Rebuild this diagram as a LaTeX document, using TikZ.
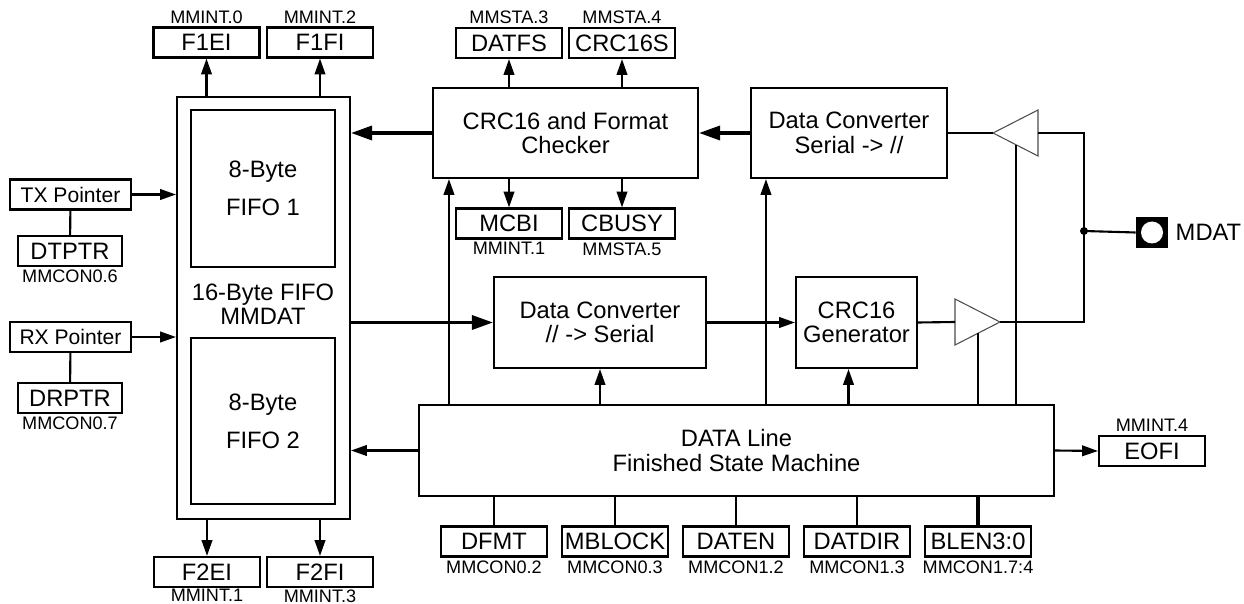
\documentclass[tikz,border=0pt]{standalone}
\usepackage{fontspec}
\setmainfont{Liberation Sans}
\usetikzlibrary{positioning,calc,arrows.meta}

\begin{document}
\begin{tikzpicture}[x=0.02cm, y=-0.02cm,
	every node/.style={inner sep=0pt, font=\fontsize{13.5}{14}\selectfont},
	box/.style={draw, line width=1.2pt, align=center},
	reg/.style={box, minimum width=2.12cm, minimum height=0.6cm},
	ptr/.style={box, minimum width=2.42cm, minimum height=0.6cm, font=\fontsize{12}{14}\selectfont},
	lbl/.style={font=\fontsize{10.3}{12}\selectfont, inner sep=1.5pt},
	arr/.style={-{Triangle[length=9pt,width=6pt]}, line width=1.2pt},
	bigarr/.style={-{Triangle[length=12pt,width=8pt]}, line width=1.9pt},
	buf/.style={draw=black!70, line width=0.6pt}]
	\useasboundingbox (0,0) rectangle (1244,604);

	% FIFO block
	\node[box, minimum width=3.46cm, minimum height=8.44cm] (fifo) at (263.5,308) {};
	\node[box, minimum width=2.88cm, minimum height=3.14cm, font=\fontsize{13.5}{21.5}\selectfont] (fifoa) at (263,188.5) {8-Byte\\FIFO 1};
	\node[box, minimum width=2.88cm, minimum height=3.32cm, font=\fontsize{13.5}{21.5}\selectfont] (fifob) at (263,421) {8-Byte\\FIFO 2};
	\node[align=center, font=\fontsize{13.5}{13.5}\selectfont] (mmdat) at (263,304) {16-Byte FIFO\\MMDAT};

	% pointers
	\node[ptr] (txp) at (70.5,194.5) {TX Pointer};
	\node[reg, minimum width=2.08cm, label={[lbl]below:MMCON0.6}] (dtptr) at (70,251) {DTPTR};
	\node[ptr] (rxp) at (70.5,337) {RX Pointer};
	\node[reg, minimum width=2.08cm, label={[lbl]below:MMCON0.7}] (drptr) at (70,398) {DRPTR};

	% flags
	\node[reg, label={[lbl]above:MMINT.0}] (f1ei) at (206.5,42.5) {F1EI};
	\node[reg, label={[lbl]above:MMINT.2}] (f1fi) at (320,42.5) {F1FI};
	\node[reg, label={[lbl, inner sep=0.6pt]below:MMINT.1}] (f2ei) at (207,572) {F2EI};
	\node[reg, label={[lbl, inner sep=0.6pt]below:MMINT.3}] (f2fi) at (320,572) {F2FI};
	\node[reg, label={[lbl]above:MMSTA.3}] (datfs) at (509,43) {DATFS};
	\node[reg, label={[lbl]above:MMSTA.4}] (crcs) at (622,43) {CRC16S};
	\node[reg, label={[lbl]below:MMINT.1}] (mcbi) at (509,223.5) {MCBI};
	\node[reg, label={[lbl]below:MMSTA.5}] (cbusy) at (622,223.5) {CBUSY};
	\node[reg, label={[lbl]above:MMINT.4}] (eofi) at (1152,451) {EOFI};

	% main blocks
	\node[box, minimum width=5.3cm, minimum height=1.8cm] (crc) at (565.5,133) {CRC16 and Format\\Checker};
	\node[box, minimum width=3.92cm, minimum height=1.8cm] (dcs) at (849,133) {Data Converter\\Serial -> //};
	\node[box, minimum width=4.24cm, minimum height=1.82cm] (dcp) at (600,322.5) {Data Converter\\// -> Serial};
	\node[box, minimum width=2.42cm, minimum height=1.82cm] (gen) at (856.5,322.5) {CRC16\\Generator};
	\node[box, minimum width=12.7cm, minimum height=1.82cm] (fsm) at (736.5,450.5) {DATA Line\\Finished State Machine};

	% control registers
	\node[reg, label={[lbl]below:MMCON0.2}] (dfmt) at (494,541.5) {DFMT};
	\node[reg, label={[lbl]below:MMCON0.3}] (mblock) at (615,541.5) {MBLOCK};
	\node[reg, label={[lbl]below:MMCON1.2}] (daten) at (736,541.5) {DATEN};
	\node[reg, label={[lbl]below:MMCON1.3}] (datdir) at (857,541.5) {DATDIR};
	\node[reg, label={[lbl]below:MMCON1.7:4}] (blen) at (978,541.5) {BLEN3:0};

	% pin
	\node[fill=black, minimum width=0.64cm, minimum height=0.62cm] (pad) at (1152,232.5) {};
	\node[circle, fill=white, minimum size=0.44cm] (padhole) at (pad) {};
	\node[right=4pt of pad] (mdat) {MDAT};

	% buffers
	\coordinate (rxtip) at (993,133);
	\coordinate (rxback) at (1038,133);
	\coordinate (txback) at (955,322);
	\coordinate (txtip) at (1000,322);
	\coordinate (rxen) at (1016,145);
	\coordinate (txen) at (978,333);
	\coordinate (jn) at (1084,231);
	\draw[buf] (rxtip) -- ++(45,-23) -- ++(0,46) -- cycle;
	\draw[buf] (txtip) -- ++(-45,-23) -- ++(0,46) -- cycle;

	% wiring
	\draw[line width=1.2pt] (rxback) -| (jn) |- (txtip);
	\fill (jn) circle (0.08cm);
	\draw[line width=1.2pt] (jn) -- (pad.west);
	\draw[line width=1.2pt] (dcs.east) -- (rxtip);
	\draw[line width=1.2pt] (gen.east) -- (txback);
	\draw[line width=1.2pt] (rxen) -- (rxen |- fsm.north);
	\draw[line width=1.2pt] (txen) -- (txen |- fsm.north);

	\draw[bigarr] (dcs.west) -- (crc.east);
	\draw[bigarr] (crc.west) -- (crc.west -| fifo.east);
	\draw[bigarr] (dcp.west -| fifo.east) -- (dcp.west);
	\draw[arr] (dcp.east) -- (gen.west);
	\draw[arr] (fsm.west) -- (fsm.west -| fifo.east);
	\draw[arr] (fsm.east) -- (eofi.west);

	\path ([xshift=0.34cm]crc.south west) coordinate (c1);
	\path ([xshift=0.32cm]dcs.south west) coordinate (c2);
	\path ([xshift=-0.16cm]gen.south) coordinate (c3);
	\draw[arr] (c1 |- fsm.north) -- (c1);
	\draw[arr] (c2 |- fsm.north) -- (c2);
	\draw[arr] (c3 |- fsm.north) -- (c3);
	\draw[arr] (dcp.south |- fsm.north) -- (dcp.south);

	\draw[arr] (datfs.south |- crc.north) -- (datfs.south);
	\draw[arr] (crcs.south |- crc.north) -- (crcs.south);
	\draw[arr] (mcbi.north |- crc.south) -- (mcbi.north);
	\draw[arr] (cbusy.north |- crc.south) -- (cbusy.north);

	\draw[arr] (f1ei.south |- fifo.north) -- (f1ei.south);
	\draw[arr] (f1fi.south |- fifo.north) -- (f1fi.south);
	\draw[arr] (f2ei.north |- fifo.south) -- (f2ei.north);
	\draw[arr] (f2fi.north |- fifo.south) -- (f2fi.north);

	\draw[arr] (txp.east) -- (txp.east -| fifo.west);
	\draw[arr] (rxp.east) -- (rxp.east -| fifo.west);
	\draw[line width=1.2pt] (txp) -- (dtptr);
	\draw[line width=1.2pt] (rxp) -- (drptr);

	\foreach \r in {dfmt,mblock,daten,datdir}
		\draw[line width=1.2pt] (\r.north) -- (\r.north |- fsm.south);
	\draw[line width=2pt] (blen.north) -- (blen.north |- fsm.south);
\end{tikzpicture}
\end{document}
